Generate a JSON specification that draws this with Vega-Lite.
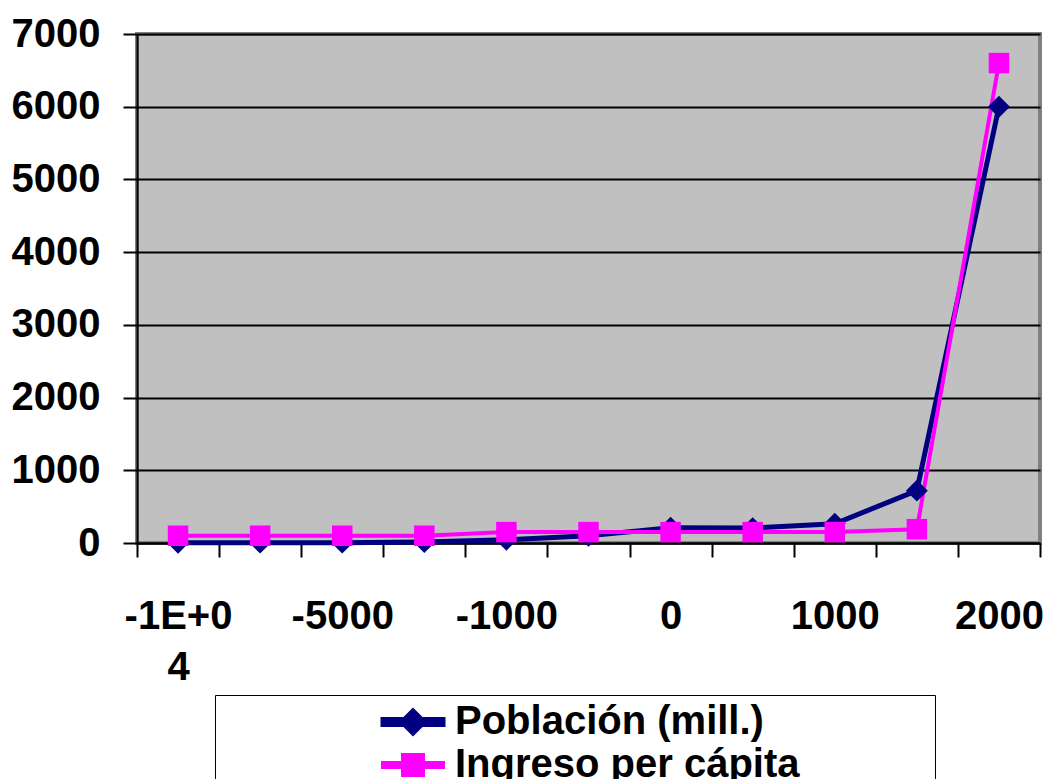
{
  "$schema": "https://vega.github.io/schema/vega-lite/v6.json",
  "width": 903,
  "height": 509,
  "autosize": {"type": "none"},
  "padding": {"left": 137, "top": 34, "right": 7, "bottom": 236},
  "background": "white",
  "config": {
    "view": {"fill": "#C0C0C0", "stroke": "#808080", "strokeWidth": 4},
    "font": "Liberation Sans"
  },
  "data": {
    "values": [
      {"year": -10000, "series": "Población (mill.)", "value": 4},
      {"year": -8000, "series": "Población (mill.)", "value": 5},
      {"year": -5000, "series": "Población (mill.)", "value": 5},
      {"year": -3000, "series": "Población (mill.)", "value": 14},
      {"year": -1000, "series": "Población (mill.)", "value": 45},
      {"year": -500, "series": "Población (mill.)", "value": 100},
      {"year": 0, "series": "Población (mill.)", "value": 210},
      {"year": 500, "series": "Población (mill.)", "value": 205},
      {"year": 1000, "series": "Población (mill.)", "value": 265},
      {"year": 1750, "series": "Población (mill.)", "value": 720},
      {"year": 2000, "series": "Población (mill.)", "value": 6000},
      {"year": -10000, "series": "Ingreso per cápita", "value": 100},
      {"year": -8000, "series": "Ingreso per cápita", "value": 100},
      {"year": -5000, "series": "Ingreso per cápita", "value": 100},
      {"year": -3000, "series": "Ingreso per cápita", "value": 100},
      {"year": -1000, "series": "Ingreso per cápita", "value": 150},
      {"year": -500, "series": "Ingreso per cápita", "value": 150},
      {"year": 0, "series": "Ingreso per cápita", "value": 150},
      {"year": 500, "series": "Ingreso per cápita", "value": 150},
      {"year": 1000, "series": "Ingreso per cápita", "value": 150},
      {"year": 1750, "series": "Ingreso per cápita", "value": 190},
      {"year": 2000, "series": "Ingreso per cápita", "value": 6600}
    ]
  },
  "encoding": {
    "x": {
      "field": "year",
      "type": "ordinal",
      "sort": "ascending",
      "scale": {"type": "band", "paddingInner": 0, "paddingOuter": 0},
      "axis": {
        "title": null,
        "grid": false,
        "tickBand": "extent",
        "tickSize": 14,
        "tickWidth": 2,
        "tickColor": "black",
        "domainColor": "black",
        "domainWidth": 2,
        "labelFont": "Liberation Sans",
        "labelFontSize": 40,
        "labelFontWeight": "bold",
        "labelColor": "black",
        "labelPadding": 39,
        "labelAngle": 0,
        "labelLineHeight": 51,
        "labelOverlap": false,
        "labelExpr": "datum.value == -10000 ? ['-1E+0', '4'] : (datum.value == -5000 ? '-5000' : (datum.value == -1000 ? '-1000' : (datum.value == 0 ? '0' : (datum.value == 1000 ? '1000' : (datum.value == 2000 ? '2000' : '')))))"
      }
    },
    "y": {
      "field": "value",
      "type": "quantitative",
      "scale": {"domain": [0, 7000], "nice": false},
      "axis": {
        "title": null,
        "values": [0, 1000, 2000, 3000, 4000, 5000, 6000, 7000],
        "format": "d",
        "grid": true,
        "gridColor": "black",
        "gridWidth": 2,
        "gridOpacity": 1,
        "tickSize": 14,
        "tickWidth": 2,
        "tickColor": "black",
        "domainColor": "black",
        "domainWidth": 2,
        "labelFont": "Liberation Sans",
        "labelFontSize": 40,
        "labelFontWeight": "bold",
        "labelColor": "black",
        "labelPadding": 23
      }
    },
    "color": {
      "field": "series",
      "type": "nominal",
      "sort": null,
      "scale": {
        "domain": ["Población (mill.)", "Ingreso per cápita"],
        "range": ["#000080", "#FF00FF"]
      },
      "legend": {
        "title": null,
        "orient": "none",
        "legendX": 78,
        "legendY": 661,
        "padding": 7,
        "fillColor": "white",
        "strokeColor": "black",
        "labelFont": "Liberation Sans",
        "labelFontSize": 40,
        "labelFontWeight": "bold",
        "labelColor": "black",
        "labelLimit": 900,
        "labelOffset": 22,
        "symbolOffset": 171,
        "symbolSize": 400,
        "symbolOpacity": 1,
        "symbolStrokeWidth": 0
      }
    }
  },
  "layer": [
    {
      "mark": {"type": "line"},
      "encoding": {
        "strokeWidth": {
          "field": "series",
          "type": "nominal",
          "scale": {"domain": ["Población (mill.)", "Ingreso per cápita"], "range": [5, 4]},
          "legend": null
        }
      }
    },
    {
      "mark": {"type": "point", "filled": true, "opacity": 0, "size": 400},
      "encoding": {
        "shape": {
          "field": "series",
          "type": "nominal",
          "sort": null,
          "scale": {
            "domain": ["Población (mill.)", "Ingreso per cápita"],
            "range": ["M-3,-0.25H3V0.25H-3Z M0,-1.1L1.1,0L0,1.1L-1.1,0Z M50.5,0", "M-3,-0.2H3V0.2H-3Z M-1,-1H1V1H-1Z M50.5,0"]
          },
          "legend": {
            "title": null,
            "orient": "none",
            "legendX": 78,
            "legendY": 661,
            "padding": 7,
            "fillColor": "white",
            "strokeColor": "black",
            "labelFont": "Liberation Sans",
            "labelFontSize": 40,
            "labelFontWeight": "bold",
            "labelColor": "black",
            "labelLimit": 900,
            "labelOffset": 22,
            "symbolOffset": 171,
            "symbolSize": 400,
            "symbolOpacity": 1,
            "symbolStrokeWidth": 0
          }
        }
      }
    },
    {
      "transform": [{"filter": "datum.series == 'Población (mill.)'"}],
      "mark": {"type": "point", "filled": true, "opacity": 1, "shape": "diamond", "size": 480}
    },
    {
      "transform": [{"filter": "datum.series == 'Ingreso per cápita'"}],
      "mark": {"type": "point", "filled": true, "opacity": 1, "shape": "square", "size": 420}
    }
  ]
}
